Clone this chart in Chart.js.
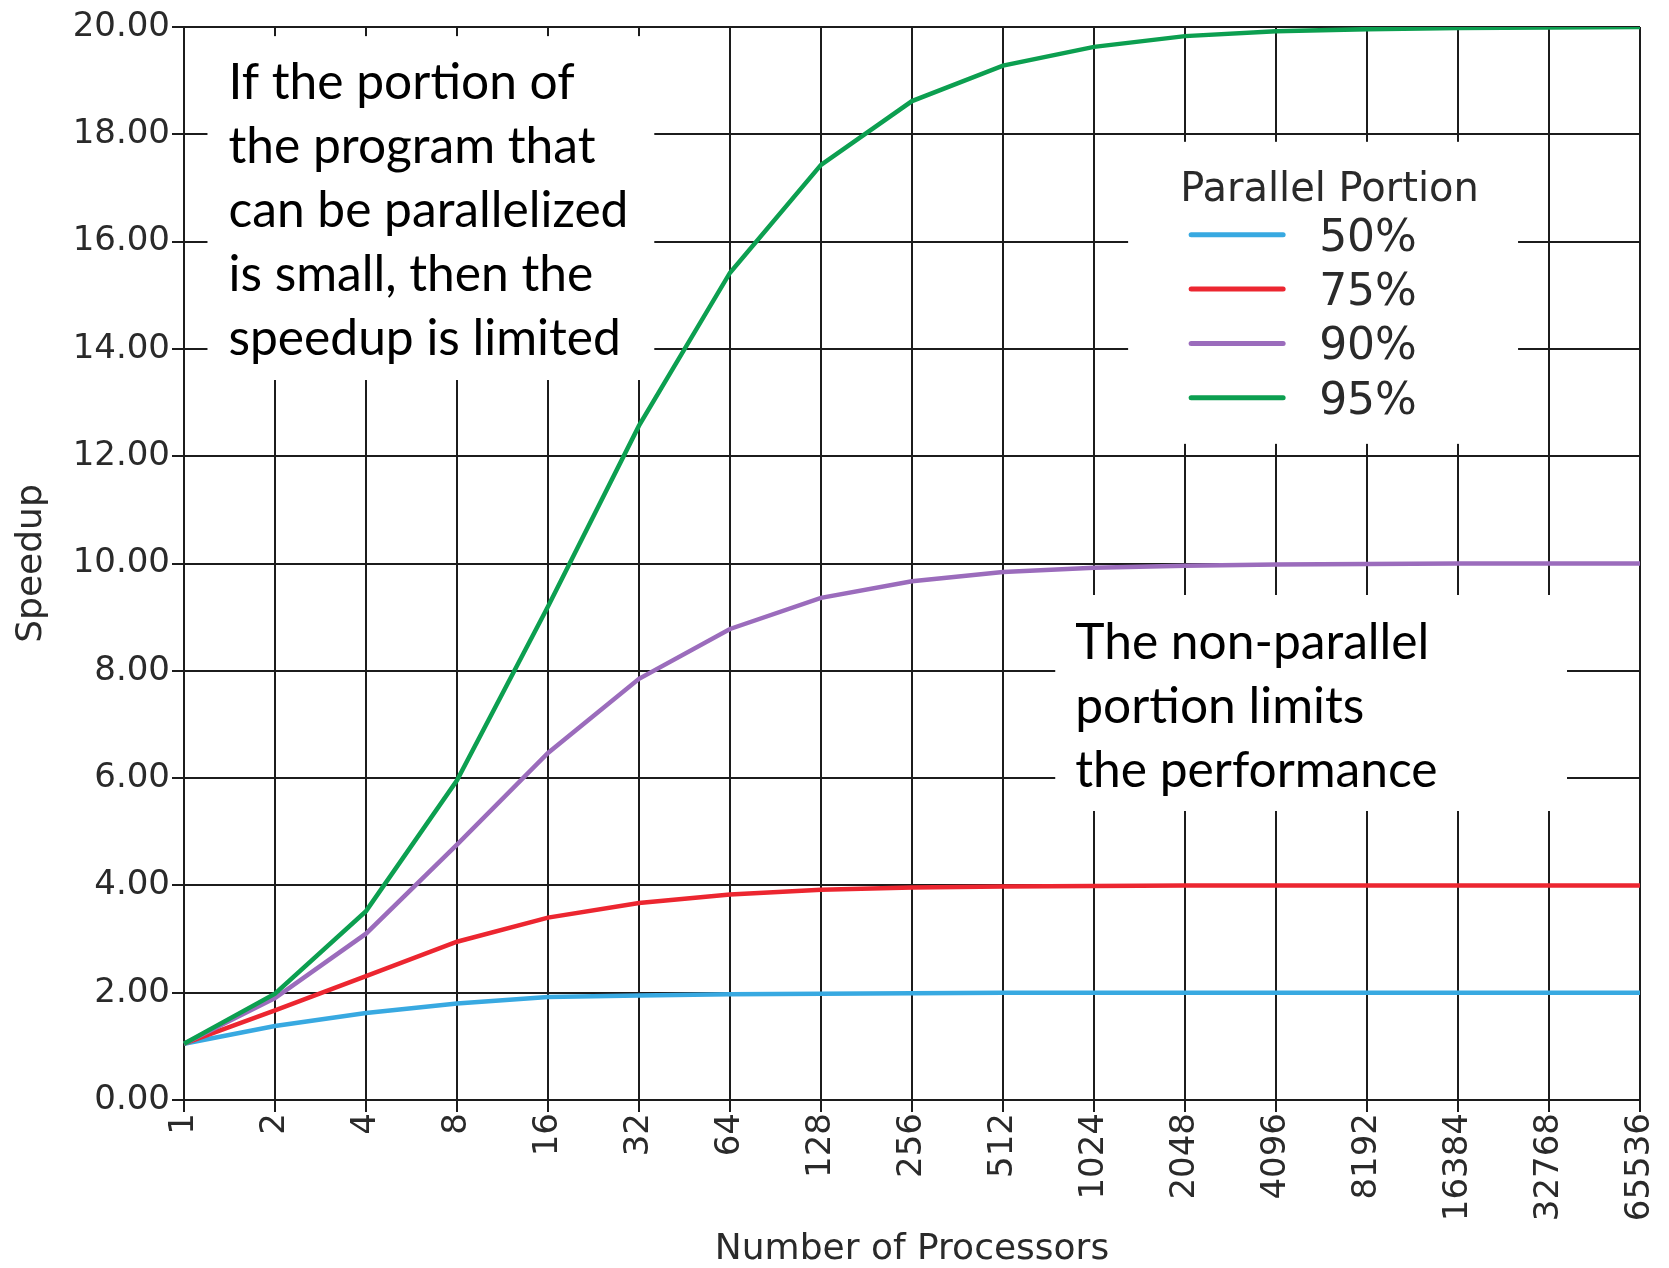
<!DOCTYPE html>
<html>
<head>
<meta charset="utf-8">
<script src="https://cdn.jsdelivr.net/npm/chart.js@4.4.1/dist/chart.umd.min.js"></script>
<style>
  html, body { margin: 0; padding: 0; background: #ffffff; }
  #wrap { width: 1669px; height: 1268px; }
</style>
</head>
<body>
<div id="wrap"><canvas id="c" width="1669" height="1268"></canvas></div>
<script>
// ---- data ----
const processors = ['1','2','4','8','16','32','64','128','256','512','1024','2048','4096','8192','16384','32768','65536'];
const seriesLabels = ['50%', '75%', '90%', '95%'];
const speedup50 = [1.05, 1.38, 1.62, 1.80, 1.92, 1.95, 1.97, 1.98, 1.99, 2.00, 2.00, 2.00, 2.00, 2.00, 2.00, 2.00, 2.00];
const speedup75 = [1.05, 1.67, 2.31, 2.95, 3.40, 3.67, 3.83, 3.92, 3.96, 3.98, 3.99, 4.00, 4.00, 4.00, 4.00, 4.00, 4.00];
const speedup90 = [1.05, 1.90, 3.10, 4.76, 6.47, 7.85, 8.78, 9.36, 9.67, 9.84, 9.92, 9.96, 9.98, 9.99, 10.00, 10.00, 10.00];
const speedup95 = [1.05, 1.98, 3.52, 5.96, 9.20, 12.57, 15.42, 17.43, 18.62, 19.28, 19.63, 19.83, 19.92, 19.96, 19.98, 19.99, 20.00];
const yMin = 0, yMax = 20, yStep = 2;
const legendTitle = 'Parallel Portion';
const noteLeft = ['If the portion of', 'the program that', 'can be parallelized', 'is small, then the', 'speedup is limited'];
const noteRight = ['The non-parallel', 'portion limits', 'the performance'];

// ---- styles / layout ----
const colors = ['#38a9e1', '#ec2630', '#9b6cbc', '#0c9f50'];
const gridColor = '#1c1c1c';
const textColor = '#2a2a2a';
const tickFont = { family: "'DejaVu Sans', sans-serif", size: 34, lineHeight: 0.8 };
const titleFont = { family: "'DejaVu Sans', sans-serif", size: 36, lineHeight: 1 };
const legendTitlePx = 40;
const legendItemPx = 44;
const noteFamily = "Lato, 'Open Sans', sans-serif";

// annotation boxes in data space (category index, speedup)
const noteBoxes = [
  { x0: 0.258, x1: 5.168, y0: 19.83, y1: 13.42, lines: noteLeft, padX: 21, firstBase: 63, lh: 64 },
  { x0: 9.574, x1: 15.198, y0: 9.413, y1: 5.387, lines: noteRight, padX: 20, firstBase: 64, lh: 64 }
];
const legendBox = { x0: 10.375, x1: 14.66, y0: 17.86, y1: 12.23 };

const overlayPlugin = {
  id: 'overlay',
  beforeDatasetsDraw(chart) {
    const ctx = chart.ctx;
    const xs = chart.scales.x, ys = chart.scales.y;
    ctx.save();
    // fit annotation font to the reference text width
    ctx.font = '44px ' + noteFamily;
    const w = ctx.measureText('can be parallelized').width;
    const noteSize = 44 * 400 / w;
    const noteFont = noteSize.toFixed(2) + 'px ' + noteFamily;

    noteBoxes.forEach(b => {
      const L = xs.getPixelForValue(b.x0), R = xs.getPixelForValue(b.x1);
      const T = ys.getPixelForValue(b.y0), B = ys.getPixelForValue(b.y1);
      ctx.fillStyle = '#ffffff';
      ctx.fillRect(L, T, R - L, B - T);
      ctx.fillStyle = '#000000';
      ctx.font = noteFont;
      ctx.textAlign = 'left';
      ctx.textBaseline = 'alphabetic';
      b.lines.forEach((t, i) => ctx.fillText(t, L + b.padX, T + b.firstBase + i * b.lh));
    });

    // legend
    const L = xs.getPixelForValue(legendBox.x0), R = xs.getPixelForValue(legendBox.x1);
    const T = ys.getPixelForValue(legendBox.y0), B = ys.getPixelForValue(legendBox.y1);
    ctx.fillStyle = '#ffffff';
    ctx.fillRect(L, T, R - L, B - T);
    ctx.font = legendTitlePx + "px 'DejaVu Sans', sans-serif";
    ctx.fillStyle = textColor;
    ctx.textAlign = 'left';
    ctx.textBaseline = 'alphabetic';
    ctx.fillText(legendTitle, L + 52, T + 59);
    ctx.font = legendItemPx + "px 'DejaVu Sans', sans-serif";
    chart.data.datasets.forEach((ds, i) => {
      const ly = T + 93 + i * 54.3;
      ctx.strokeStyle = ds.borderColor;
      ctx.lineWidth = 5;
      ctx.lineCap = 'round';
      ctx.beginPath();
      ctx.moveTo(L + 63, ly);
      ctx.lineTo(L + 155, ly);
      ctx.stroke();
      ctx.fillStyle = textColor;
      ctx.fillText(ds.label, L + 191, ly + 16);
    });
    ctx.restore();
  }
};

const seriesData = [speedup50, speedup75, speedup90, speedup95];
new Chart(document.getElementById('c'), {
  type: 'line',
  data: {
    labels: processors,
    datasets: seriesData.map((d, i) => ({
      label: seriesLabels[i],
      data: d,
      borderColor: colors[i],
      backgroundColor: colors[i],
      borderWidth: 4.5,
      pointRadius: 0,
      tension: 0,
      fill: false,
      order: 4 - i
    }))
  },
  options: {
    responsive: false,
    animation: false,
    devicePixelRatio: 1,
    layout: { padding: { top: 27, right: 29, left: 0, bottom: 0 } },
    plugins: { legend: { display: false }, tooltip: { enabled: false } },
    scales: {
      x: {
        type: 'category',
        offset: false,
        grid: { color: gridColor, lineWidth: 2, tickLength: 12, offset: false },
        border: { color: gridColor, width: 2 },
        ticks: { color: textColor, font: tickFont, minRotation: 90, maxRotation: 90, autoSkip: false, padding: 1 },
        title: { display: true, text: 'Number of Processors', color: textColor, font: titleFont, padding: { top: 0, bottom: 0 } },
        afterFit(scale) { scale.height = 168; scale.paddingRight = 0; scale.paddingLeft = 0; }
      },
      y: {
        min: yMin, max: yMax,
        grid: { color: gridColor, lineWidth: 2, tickLength: 12 },
        border: { color: gridColor, width: 2 },
        ticks: { stepSize: yStep, color: textColor, font: tickFont, padding: 2, callback: v => Number(v).toFixed(2) },
        title: { display: true, text: 'Speedup', color: textColor, font: titleFont, padding: { top: 14, bottom: 0 } },
        afterFit(scale) { scale.width = 184; }
      }
    }
  },
  plugins: [overlayPlugin]
});
</script>
</body>
</html>
